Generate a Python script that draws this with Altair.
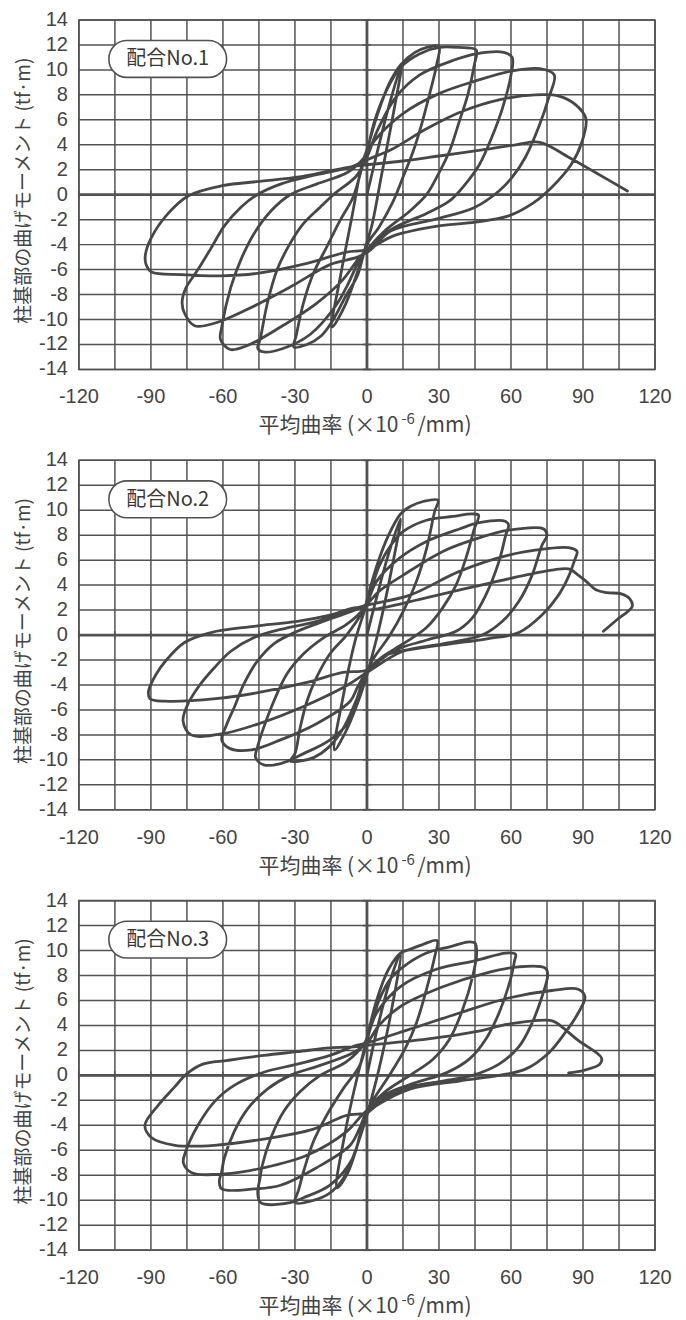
import altair as alt
import pandas as pd

# ---------------- data ----------------
p1_x = [0,
        4, 9, 14.5, 11, 6, 2, 0,
        -4, -9, -14.5, -11, -6, -2, 0,
        4, 9, 14, 20, 25, 30, 29, 26, 22.7, 19.3, 15, 11, 5, 0,
        -4, -8.5, -14, -19, -25, -30.5, -29.5, -26.5, -22.3, -16.8, -11.3, -5.8, -2, 0,
        3, 8, 14, 22, 30, 38, 45.5, 44.7, 42, 38.5, 34.4, 29.6, 24.8, 17.9, 8, 1,
        -3, -8, -13, -23.7, -34.7, -43, -45.5, -44.5, -41.5, -37.4, -32, -26.4, -19.5, -14, -4.4, 0,
        4, 12, 22, 35, 46, 57, 60.5, 60, 56.4, 52, 46.8, 41, 34.4, 24.8, 10, 1,
        -3, -10, -21, -36, -50, -57, -61, -60.5, -56.7, -52.5, -47, -40, -32, -21, -8, -1,
        3, 15, 30, 45, 60, 72, 78, 75.6, 71.5, 66, 60.5, 55, 45, 30, 10, 1,
        -4, -15.4, -32, -50, -63.5, -71.8, -76, -77, -75.5, -70.4, -65, -59.4, -52.5, -45.7, -36, -21, -7, 0,
        10, 25, 40, 55, 70, 80, 87, 91.2, 89.5, 85, 77, 69, 59, 45, 30, 11, 0,
        -8.5, -25, -45.7, -60.8, -77.3, -89.7, -92, -92.3, -89.7, -82.8, -74.5, -60.8, -43, -29, -15.4, -4.4,
        0, 15, 30, 48, 62, 72, 84, 95, 108.5]
p1_y = [0,
        3.2, 7.0, 10.5, 6.5, 1.5, -2.5, -3.8,
        -6.2, -8.8, -10.6, -6.5, -1.5, 2.5, 3.6,
        6.2, 8.8, 10.4, 11.4, 11.8, 11.9, 10.4, 8, 5.6, 3.5, 1.4, -0.5, -2.6, -4.0,
        -6.5, -8.0, -10.0, -11.3, -12.0, -12.2, -11.3, -8.7, -6.3, -4.2, -2.1, -0.2, 2.2, 3.4,
        5.8, 8.3, 10.2, 11.3, 11.8, 11.8, 11.6, 10.4, 8, 5.9, 3.5, 1.6, 0, -1.3, -2.8, -4.2,
        -5.2, -7.2, -8.9, -11.2, -12.3, -12.6, -12.3, -11.6, -8.7, -6, -3.9, -2.3, -1, 0, 1.5, 3.0,
        5.0, 7.8, 9.6, 10.7, 11.3, 11.4, 11.0, 9.6, 6.9, 4.6, 2.4, 0.85, -0.5, -1.5, -2.8, -4.3,
        -5.0, -6.8, -8.7, -10.6, -12.1, -12.4, -11.6, -10.6, -7.4, -5.2, -3.1, -1.3, 0, 0.85, 1.8, 3.0,
        4.3, 6.5, 8.1, 9.1, 9.9, 10.1, 9.6, 7.7, 5.4, 3, 1.4, 0.3, -1, -1.9, -2.9, -4.5,
        -5.0, -5.6, -7.4, -9.2, -10.3, -10.5, -9.5, -8.6, -7.5, -6.0, -4.3, -2.5, -1, 0, 0.85, 1.6, 2.2, 2.8,
        3.6, 5.3, 6.7, 7.6, 8.0, 7.9, 7.2, 6.1, 4.2, 2.4, 0.6, -0.7, -1.7, -2.2, -2.5, -3.3, -4.4,
        -4.6, -5.5, -6.3, -6.5, -6.4, -6.2, -5.6, -4.8, -3.4, -1.5, -0.1, 0.7, 1.1, 1.4, 1.9, 2.3,
        2.4, 2.7, 3.1, 3.6, 4.0, 4.2, 3.0, 1.8, 0.3]

p2_x = [0,
        4, 9, 14, 10, 5, 1, 0,
        -4, -9, -13.5, -10, -5, -1, 0,
        4, 9, 14, 18, 23.4, 29.6, 28.2, 24.8, 20.6, 15.1, 9.6, 3, 0,
        -4, -10, -16, -22, -28, -32, -30, -27.8, -25, -21, -15.4, -8.5, -2, 0,
        5, 10, 15.1, 24.8, 35.8, 44, 46.5, 44.7, 41.3, 37.1, 31.6, 24.8, 15.1, 6, 0,
        -4, -7, -15.4, -26.4, -36, -43, -46.4, -45.5, -43, -38.8, -33.3, -26.4, -18, -8.5, -1,
        4, 13.8, 24.8, 38.5, 46.8, 57.8, 59, 57.8, 55, 49.5, 44, 37.1, 25, 12, 0,
        -4, -7, -21, -36, -48, -57, -60.5, -58.5, -55.3, -51.2, -45.7, -38.8, -29, -18, -5, 0,
        5, 15.1, 31.6, 45.4, 59, 73.6, 75, 72.9, 68.8, 63.3, 56.4, 48, 31.6, 15, 0,
        -8, -25, -45, -60, -73.2, -76.6, -75, -70.4, -63.5, -56.7, -47, -36, -21, -7.2, 0,
        17.9, 38.5, 59, 74.3, 83.9, 87.5, 86.5, 84, 79.8, 72.9, 63.3, 50, 35, 20, 8, 0,
        -10, -25, -45, -63, -84, -90.4, -91, -88, -84, -76, -65, -47, -29, -15.4, -4.4,
        0, 25, 45, 66, 77, 84, 88, 91.3, 95.6, 100, 105.9, 109.5, 110.5, 104, 98.5]
p2_y = [0,
        3.0, 6.5, 9.3, 5, 0.5, -2.5, -3.2,
        -5.5, -7.8, -9.2, -5, -0.5, 2.0, 2.8,
        5.5, 8.0, 9.7, 10.3, 10.7, 10.8, 9.9, 6.9, 4.3, 1.9, 0, -1.8, -2.8,
        -5.0, -7.5, -9.0, -9.8, -10.1, -10.1, -9.5, -7.4, -5.3, -3.4, -1.5, 0, 1.8, 2.6,
        5.5, 7.2, 8.3, 9.2, 9.5, 9.7, 9.6, 8.5, 6.2, 4, 2.2, 0.6, -0.7, -1.8, -2.9,
        -5.0, -6.8, -8.4, -9.5, -10.3, -10.4, -9.8, -8.9, -7.4, -5.3, -3.1, -1.5, -0.2, 0.85, 2.2,
        4.3, 6.2, 7.5, 8.5, 9.0, 9.1, 8.8, 8, 5.9, 3.2, 1.4, 0.3, -0.4, -1.2, -3.0,
        -4.2, -5.3, -7.1, -8.4, -9.2, -9.1, -8.4, -7.2, -5.8, -3.9, -2.1, -0.7, 0.3, 1.1, 2.0, 2.5,
        3.5, 4.8, 6.7, 7.7, 8.4, 8.5, 8.0, 7.2, 4.8, 2.7, 1.1, 0, -0.7, -1.3, -3.0,
        -4.0, -5.6, -7.1, -7.9, -8.0, -6.9, -5.7, -4.2, -2.6, -1.3, -0.2, 0.45, 1.1, 2.0, 2.4,
        3.2, 5.1, 6.4, 6.9, 7.0, 6.7, 6.0, 4.7, 3.2, 1.6, 0.2, -0.3, -0.7, -1.1, -1.6, -2.8,
        -3.0, -3.8, -4.6, -5.1, -5.3, -5.1, -4.5, -3.2, -2.1, -0.6, 0.2, 0.7, 1.1, 1.6, 2.2,
        2.0, 3.0, 3.9, 4.8, 5.2, 5.3, 4.8, 4.3, 3.6, 3.4, 3.3, 2.9, 2.3, 1.2, 0.3]

p3_x = [0,
        4, 9, 14, 10, 5, 1, 0,
        -4, -8, -12.5, -9, -4.5, -1, 0,
        4, 9, 14, 17.9, 23.4, 29.2, 28.2, 24.8, 20.6, 15.8, 9.6, 2.75, 0,
        -4, -10, -16, -22, -30, -28.5, -26.4, -22.3, -16.8, -10, -3, 0,
        5, 10, 15.1, 24.8, 34.4, 42.6, 45, 45.7, 44, 39.9, 34.4, 27.5, 17.9, 7, 0,
        -3, -5.8, -15.4, -26.4, -32, -44.3, -45.5, -44.5, -43.6, -40, -34.7, -27.8, -19.5, -8.5, -1,
        4, 13.8, 28.9, 45.4, 57.8, 61.9, 61.5, 59.8, 55, 49.5, 42.6, 33, 20, 8, 0,
        -3, -7, -21, -36, -47, -60.5, -61.5, -60.5, -59.4, -55.3, -49.8, -41.5, -32, -19.5, -6, 0,
        5, 13.8, 31.6, 49.5, 63.3, 74.3, 75.3, 72.9, 68.8, 63.3, 55, 44, 30, 15, 0,
        -8.5, -25, -43, -59.4, -73, -76.5, -75.5, -70.4, -63.5, -55.3, -43, -29, -15.4, -4.4, 0,
        17.9, 38.5, 59, 77, 88, 90.8, 88, 82.5, 75.7, 66, 55, 38.5, 17.9, 4.1, 0,
        -8.5, -22.3, -43, -63.5, -80, -89.7, -92.5, -87, -80, -75.2, -68.4, -58, -43, -29, -15.4, -4.4,
        0, 24.8, 45.4, 59, 76.3, 79, 88, 97.7, 97, 90.4, 84]
p3_y = [0,
        3.5, 7.2, 9.8, 5, 0.5, -2.5, -3.2,
        -5.6, -7.8, -9.0, -4.5, -0.5, 2.2, 3.0,
        6.0, 8.5, 9.8, 10.1, 10.5, 10.8, 9.5, 6.9, 4.2, 2.1, 0.1, -1.9, -2.8,
        -5.6, -8.3, -9.5, -10.0, -10.2, -9.2, -7.7, -5.3, -3.2, -1.1, 0.8, 2.8,
        6.0, 7.8, 8.7, 9.8, 10.3, 10.7, 10.6, 9.8, 7.9, 5.3, 2.9, 1.3, 0, -1.4, -2.9,
        -4.8, -6.6, -8.8, -9.8, -10.2, -10.2, -9.4, -8.2, -7.2, -5.0, -2.9, -1.3, 0, 1.1, 2.6,
        5.0, 7.1, 8.5, 9.2, 9.8, 9.7, 9.2, 7.7, 5, 2.9, 1.3, 0.2, -0.6, -1.5, -2.9,
        -4.2, -5.6, -7.4, -8.8, -9.1, -9.1, -8.5, -7.7, -6.6, -4.5, -2.7, -1.1, 0, 0.8, 1.8, 2.6,
        4.0, 5.5, 7.1, 8.2, 8.7, 8.6, 8.1, 6.3, 4.2, 2.3, 0.9, 0, -0.5, -1.1, -2.8,
        -4.5, -6.4, -7.4, -7.9, -7.8, -7.0, -6.1, -4.0, -2.1, -0.8, 0.25, 0.9, 1.6, 2.4, 2.6,
        3.7, 5.0, 6.2, 6.8, 6.9, 6.3, 5, 3.4, 1.8, 0.5, 0, -0.45, -1.1, -2.4, -3.0,
        -3.2, -4.3, -5.1, -5.6, -5.6, -5.0, -4.0, -2.4, -0.9, 0.1, 0.9, 1.2, 1.6, 1.9, 2.2, 2.3,
        2.4, 2.9, 3.5, 4.1, 4.4, 4.2, 2.8, 1.4, 0.9, 0.4, 0.2]

panel_labels = ["配合No.1", "配合No.2", "配合No.3"]
x_grid = list(range(-120, 121, 15))      # grid lines
x_labels = list(range(-120, 121, 30))    # labelled ticks
y_grid = list(range(-14, 15, 2))
x_title_main = "平均曲率 (×10"
x_title_sup = "-6"
x_title_tail = "/mm)"
y_title = "柱基部の曲げモーメント (tf·m)"

# ---------------- style ----------------
LINE = "#474747"
GRID = "#525252"
TXT = "#444444"
W, H = 577, 350
CJK = "Noto Sans CJK JP"
LAT = "Liberation Sans"

xsc = alt.Scale(domain=[-120, 120], nice=False, zero=False)
ysc = alt.Scale(domain=[-14, 14], nice=False, zero=False)
one = pd.DataFrame({"k": [0]})


def panel(xs, ys, label):
    df = pd.DataFrame({"x": xs, "y": ys, "i": list(range(len(xs)))})

    gx = alt.Chart(pd.DataFrame({"t": x_grid})).mark_rule(
        color=GRID, strokeWidth=1.5
    ).encode(x=alt.X("t:Q", scale=xsc, axis=None))
    gy = alt.Chart(pd.DataFrame({"t": y_grid})).mark_rule(
        color=GRID, strokeWidth=1.5
    ).encode(y=alt.Y("t:Q", scale=ysc, axis=None))

    zv = alt.Chart(one).mark_rule(color=GRID, strokeWidth=2.8).encode(
        x=alt.datum(0, scale=xsc, axis=None))
    zh = alt.Chart(one).mark_rule(color=GRID, strokeWidth=2.8).encode(
        y=alt.datum(0, scale=ysc, axis=None))
    tv = alt.Chart(pd.DataFrame({"t": y_grid})).mark_tick(
        orient="horizontal", size=8, thickness=2, color=GRID
    ).encode(x=alt.datum(0, scale=xsc, axis=None), y=alt.Y("t:Q", scale=ysc, axis=None))
    th = alt.Chart(pd.DataFrame({"t": x_grid})).mark_tick(
        orient="vertical", size=8, thickness=2, color=GRID
    ).encode(x=alt.X("t:Q", scale=xsc, axis=None), y=alt.datum(0, scale=ysc, axis=None))

    curve = alt.Chart(df).mark_line(
        color=LINE, strokeWidth=2.8, interpolate="catmull-rom",
        strokeJoin="round", strokeCap="round", clip=True
    ).encode(x=alt.X("x:Q", scale=xsc, axis=None),
             y=alt.Y("y:Q", scale=ysc, axis=None), order="i:Q")

    box = alt.Chart(one).mark_rect(
        fill="white", stroke=GRID, strokeWidth=1.6, cornerRadius=18
    ).encode(x=alt.datum(-107.5, scale=xsc, axis=None), x2=alt.datum(-58.5),
             y=alt.datum(12.35, scale=ysc, axis=None), y2=alt.datum(9.4))
    txt = alt.Chart(one).mark_text(
        font=CJK, fontSize=20, color="#383838", align="center", baseline="middle"
    ).encode(x=alt.datum(-83, scale=xsc, axis=None), y=alt.datum(10.85, scale=ysc, axis=None),
             text=alt.value(label))

    # tick labels (positioned by the scales)
    ylab = alt.Chart(pd.DataFrame({"t": y_grid})).transform_calculate(
        lab="'' + datum.t"
    ).mark_text(font=LAT, fontSize=20, color=TXT, align="right", baseline="middle"
    ).encode(x=alt.value(-11), y=alt.Y("t:Q", scale=ysc, axis=None), text="lab:N")
    xlab = alt.Chart(pd.DataFrame({"t": x_labels})).transform_calculate(
        lab="'' + datum.t"
    ).mark_text(font=LAT, fontSize=20, color=TXT, align="center", baseline="middle"
    ).encode(x=alt.X("t:Q", scale=xsc, axis=None), y=alt.value(H + 28), text="lab:N")

    # axis titles
    ytl = alt.Chart(one).mark_text(
        font=CJK, fontSize=19, color=TXT, angle=270, align="center", baseline="middle"
    ).encode(x=alt.value(-55), y=alt.value(H / 2 - 4), text=alt.value(y_title))
    t_main = alt.Chart(one).mark_text(
        font=CJK, fontSize=21, color=TXT, align="right", baseline="middle"
    ).encode(x=alt.value(320), y=alt.value(H + 57), text=alt.value(x_title_main))
    t_sup = alt.Chart(one).mark_text(
        font=CJK, fontSize=15, color=TXT, align="left", baseline="middle"
    ).encode(x=alt.value(323), y=alt.value(H + 50), text=alt.value(x_title_sup))
    t_tail = alt.Chart(one).mark_text(
        font=CJK, fontSize=21, color=TXT, align="left", baseline="middle"
    ).encode(x=alt.value(339), y=alt.value(H + 57), text=alt.value(x_title_tail))

    return alt.layer(gx, gy, zv, zh, tv, th, curve, box, txt,
                     ylab, xlab, ytl, t_main, t_sup, t_tail
                     ).properties(width=W, height=H)


chart = alt.vconcat(
    panel(p1_x, p1_y, panel_labels[0]),
    panel(p2_x, p2_y, panel_labels[1]),
    panel(p3_x, p3_y, panel_labels[2]),
    spacing=91, bounds="flush"
).properties(
    padding={"top": 0, "left": 6, "right": 5, "bottom": 0}
).configure_view(
    stroke=GRID, strokeWidth=1.6
)

chart.save("out.html", embed_options={"renderer": "svg", "actions": False})
